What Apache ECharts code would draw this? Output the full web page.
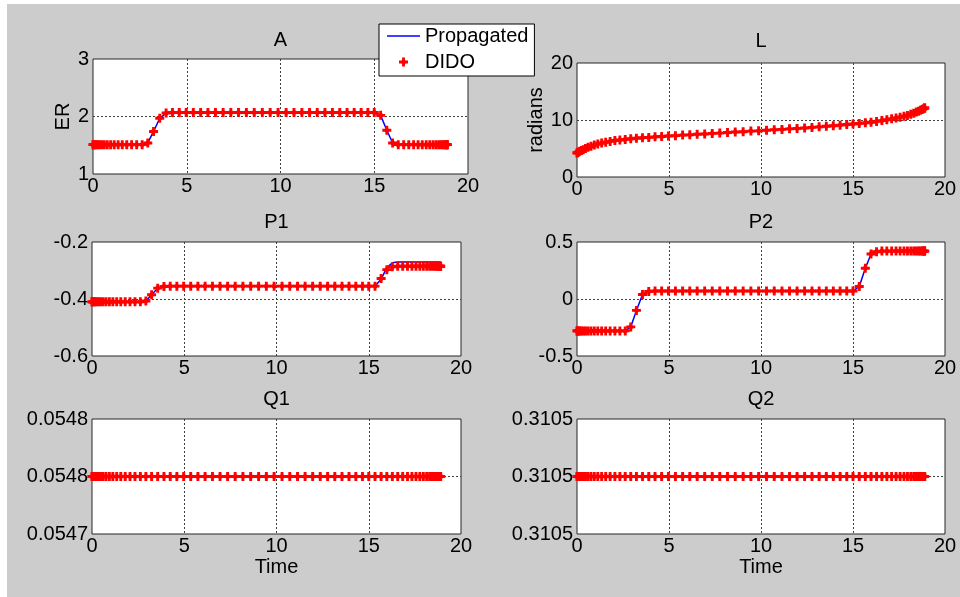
<!DOCTYPE html>
<html>
<head>
<meta charset="utf-8">
<script src="https://cdn.jsdelivr.net/npm/echarts@6/dist/echarts.min.js"></script>
<style>
html,body{margin:0;padding:0;background:#ffffff;}
#chart{width:960px;height:597px;}
</style>
</head>
<body>
<div id="chart"></div>
<script>
// ---- Data ----
const timeNodes = [
  0, 0.01, 0.04, 0.09, 0.15, 0.24, 0.34, 0.46, 0.60, 0.76,
  0.94, 1.13, 1.34, 1.56, 1.80, 2.06, 2.33, 2.62, 2.92, 3.23,
  3.56, 3.90, 4.24, 4.60, 4.97, 5.35, 5.74, 6.13, 6.53, 6.94,
  7.35, 7.76, 8.18, 8.60, 9.03, 9.45, 9.87, 10.30, 10.72, 11.14,
  11.55, 11.96, 12.37, 12.77, 13.16, 13.55, 13.93, 14.30, 14.66, 15.00,
  15.34, 15.67, 15.98, 16.28, 16.57, 16.84, 17.10, 17.34, 17.56, 17.77,
  17.96, 18.14, 18.30, 18.44, 18.56, 18.66, 18.75, 18.81, 18.86, 18.89,
  18.90
];

const aDido = [
  1.51, 1.51, 1.51, 1.51, 1.51, 1.51, 1.51, 1.51, 1.51, 1.51,
  1.51, 1.51, 1.51, 1.51, 1.51, 1.51, 1.51, 1.51, 1.54, 1.74,
  1.97, 2.06, 2.07, 2.07, 2.07, 2.07, 2.07, 2.07, 2.07, 2.07,
  2.07, 2.07, 2.07, 2.07, 2.07, 2.07, 2.07, 2.07, 2.07, 2.07,
  2.07, 2.07, 2.07, 2.07, 2.07, 2.07, 2.07, 2.07, 2.07, 2.07,
  2.02, 1.76, 1.54, 1.51, 1.51, 1.51, 1.51, 1.51, 1.51, 1.51,
  1.51, 1.51, 1.51, 1.51, 1.51, 1.51, 1.51, 1.51, 1.51, 1.51,
  1.51
];

const lDido = [
  4.2, 4.25, 4.3, 4.4, 4.5, 4.65, 4.8, 5.0, 5.2, 5.4,
  5.6, 5.8, 5.95, 6.1, 6.25, 6.4, 6.5, 6.6, 6.7, 6.8,
  6.9, 6.95, 7.05, 7.1, 7.2, 7.25, 7.35, 7.4, 7.5, 7.55,
  7.65, 7.7, 7.8, 7.9, 7.95, 8.05, 8.1, 8.2, 8.3, 8.35,
  8.45, 8.5, 8.6, 8.7, 8.8, 8.9, 9.0, 9.1, 9.2, 9.3,
  9.4, 9.5, 9.6, 9.75, 9.9, 10.05, 10.2, 10.35, 10.5, 10.65,
  10.8, 11.0, 11.2, 11.4, 11.55, 11.7, 11.85, 11.95, 12.05, 12.1,
  12.1
];

const p1Dido = [
  -0.41, -0.41, -0.41, -0.41, -0.41, -0.41, -0.41, -0.41, -0.41, -0.41,
  -0.41, -0.41, -0.41, -0.41, -0.41, -0.41, -0.41, -0.41, -0.407, -0.385,
  -0.362, -0.356, -0.355, -0.355, -0.355, -0.355, -0.355, -0.355, -0.355, -0.355,
  -0.355, -0.355, -0.355, -0.355, -0.355, -0.355, -0.355, -0.355, -0.355, -0.355,
  -0.355, -0.355, -0.355, -0.355, -0.355, -0.355, -0.355, -0.355, -0.355, -0.355,
  -0.355, -0.328, -0.297, -0.287, -0.285, -0.285, -0.285, -0.285, -0.285, -0.285,
  -0.285, -0.285, -0.285, -0.285, -0.285, -0.285, -0.285, -0.285, -0.285, -0.285,
  -0.285
];

const p1Prop = [
  -0.41, -0.41, -0.41, -0.41, -0.41, -0.41, -0.41, -0.41, -0.41, -0.41,
  -0.41, -0.41, -0.41, -0.41, -0.41, -0.41, -0.41, -0.41, -0.407, -0.385,
  -0.362, -0.356, -0.355, -0.355, -0.355, -0.355, -0.355, -0.355, -0.355, -0.355,
  -0.355, -0.355, -0.355, -0.355, -0.355, -0.355, -0.355, -0.355, -0.355, -0.355,
  -0.355, -0.355, -0.355, -0.355, -0.355, -0.355, -0.355, -0.355, -0.355, -0.355,
  -0.355, -0.33, -0.29, -0.273, -0.27, -0.27, -0.27, -0.27, -0.27, -0.27,
  -0.27, -0.27, -0.27, -0.27, -0.27, -0.27, -0.27, -0.27, -0.27, -0.27,
  -0.27
];

const p2Dido = [
  -0.28, -0.28, -0.28, -0.28, -0.28, -0.28, -0.28, -0.28, -0.28, -0.28,
  -0.28, -0.28, -0.28, -0.28, -0.28, -0.28, -0.28, -0.28, -0.245, -0.10,
  0.04, 0.066, 0.07, 0.07, 0.07, 0.07, 0.07, 0.07, 0.07, 0.07,
  0.07, 0.07, 0.07, 0.07, 0.07, 0.07, 0.07, 0.07, 0.07, 0.07,
  0.07, 0.07, 0.07, 0.07, 0.07, 0.07, 0.07, 0.07, 0.07, 0.07,
  0.11, 0.27, 0.395, 0.415, 0.42, 0.42, 0.42, 0.42, 0.42, 0.42,
  0.42, 0.42, 0.42, 0.42, 0.42, 0.42, 0.42, 0.42, 0.42, 0.42,
  0.42
];

const q1Dido = [
  0.05476, 0.05476, 0.05476, 0.05476, 0.05476, 0.05476, 0.05476, 0.05476, 0.05476, 0.05476,
  0.05476, 0.05476, 0.05476, 0.05476, 0.05476, 0.05476, 0.05476, 0.05476, 0.05476, 0.05476,
  0.05476, 0.05476, 0.05476, 0.05476, 0.05476, 0.05476, 0.05476, 0.05476, 0.05476, 0.05476,
  0.05476, 0.05476, 0.05476, 0.05476, 0.05476, 0.05476, 0.05476, 0.05476, 0.05476, 0.05476,
  0.05476, 0.05476, 0.05476, 0.05476, 0.05476, 0.05476, 0.05476, 0.05476, 0.05476, 0.05476,
  0.05476, 0.05476, 0.05476, 0.05476, 0.05476, 0.05476, 0.05476, 0.05476, 0.05476, 0.05476,
  0.05476, 0.05476, 0.05476, 0.05476, 0.05476, 0.05476, 0.05476, 0.05476, 0.05476, 0.05476,
  0.05476
];

const q2Dido = [
  0.31048, 0.31048, 0.31048, 0.31048, 0.31048, 0.31048, 0.31048, 0.31048, 0.31048, 0.31048,
  0.31048, 0.31048, 0.31048, 0.31048, 0.31048, 0.31048, 0.31048, 0.31048, 0.31048, 0.31048,
  0.31048, 0.31048, 0.31048, 0.31048, 0.31048, 0.31048, 0.31048, 0.31048, 0.31048, 0.31048,
  0.31048, 0.31048, 0.31048, 0.31048, 0.31048, 0.31048, 0.31048, 0.31048, 0.31048, 0.31048,
  0.31048, 0.31048, 0.31048, 0.31048, 0.31048, 0.31048, 0.31048, 0.31048, 0.31048, 0.31048,
  0.31048, 0.31048, 0.31048, 0.31048, 0.31048, 0.31048, 0.31048, 0.31048, 0.31048, 0.31048,
  0.31048, 0.31048, 0.31048, 0.31048, 0.31048, 0.31048, 0.31048, 0.31048, 0.31048, 0.31048,
  0.31048
];

const panelTitles = ['A', 'L', 'P1', 'P2', 'Q1', 'Q2'];
const yNames = ['ER', 'radians', '', '', '', ''];
const xName = 'Time';
const seriesNames = ['Propagated', 'DIDO'];
const xRange = { min: 0, max: 20, interval: 5 };
const yRanges = [
  { min: 1, max: 3, interval: 1 },
  { min: 0, max: 20, interval: 10 },
  { min: -0.6, max: -0.2, interval: 0.2 },
  { min: -0.5, max: 0.5, interval: 0.5 },
  { min: 0.05472, max: 0.0548, interval: 0.00004 },
  { min: 0.31046, max: 0.3105, interval: 0.00002 }
];
const didoSets = [aDido, lDido, p1Dido, p2Dido, q1Dido, q2Dido];
const propSets = [aDido, lDido, p1Prop, p2Dido, q1Dido, q2Dido];

// ---- Layout / style ----
const FONT = "'Liberation Sans', Arial, sans-serif";
const grids = [
  { left: 93, top: 59, width: 375, height: 115 },
  { left: 577, top: 63, width: 368, height: 114 },
  { left: 92, top: 242, width: 369, height: 114 },
  { left: 577, top: 242, width: 368, height: 114 },
  { left: 92, top: 419, width: 369, height: 115 },
  { left: 577, top: 419, width: 368, height: 115 }
];
const titleY = [40, 41, 222, 222, 399, 399];
const yNameGap = [20, 28, 0, 0, 0, 0];
const starPath = 'path://M3.4,0L6.6,0L6.6,3.4L10,3.4L10,6.6L6.6,6.6L6.6,10L3.4,10L3.4,6.6L0,6.6L0,3.4L3.4,3.4ZM5,1L9,5L5,9L1,5Z';
const lineIcon = 'path://M0,0L33,0L33,1.6L0,1.6Z';

const gridLine = { show: true, showMinLine: false, showMaxLine: false,
  lineStyle: { color: '#404040', width: 1, type: [2, 2] } };

const option = {
  animation: false,
  backgroundColor: '#ffffff',
  graphic: [{
    type: 'rect', z: -100, silent: true,
    shape: { x: 7, y: 4, width: 953, height: 593 },
    style: { fill: '#cccccc' }
  }],
  title: panelTitles.map((t, i) => ({
    text: t,
    left: grids[i].left + grids[i].width / 2,
    top: titleY[i],
    padding: 0,
    textAlign: 'center',
    textVerticalAlign: 'middle',
    textStyle: { fontSize: 20, fontWeight: 'normal', color: '#000', fontFamily: FONT }
  })),
  legend: {
    data: [{ name: seriesNames[0], icon: lineIcon }, { name: seriesNames[1], icon: starPath }],
    orient: 'vertical',
    left: 379, top: 24,
    padding: [2, 6, 4, 8],
    itemGap: 6,
    itemWidth: 33,
    itemHeight: 9,
    backgroundColor: '#ffffff',
    borderColor: '#000000',
    borderWidth: 1,
    borderRadius: 0,
    selectedMode: false,
    textStyle: { fontSize: 20, color: '#000', fontFamily: FONT }
  },
  grid: grids.map(g => Object.assign({
    show: true, backgroundColor: '#ffffff', borderColor: '#262626', borderWidth: 1,
    containLabel: false, outerBoundsMode: 'none'
  }, g)),
  xAxis: grids.map((g, i) => ({
    type: 'value', gridIndex: i,
    min: xRange.min, max: xRange.max, interval: xRange.interval,
    name: i >= 4 ? xName : '',
    nameLocation: 'middle', nameGap: 23,
    nameTextStyle: { fontSize: 20, color: '#000', fontFamily: FONT },
    axisLine: { show: false },
    axisTick: { show: false },
    axisLabel: { fontSize: 20, color: '#000', fontFamily: FONT, margin: 2,
      showMinLabel: true, showMaxLabel: true },
    splitLine: gridLine
  })),
  yAxis: grids.map((g, i) => ({
    type: 'value', gridIndex: i,
    min: yRanges[i].min, max: yRanges[i].max, interval: yRanges[i].interval,
    name: yNames[i],
    nameLocation: 'middle', nameGap: yNameGap[i], nameRotate: 90,
    nameTextStyle: { fontSize: 20, color: '#000', fontFamily: FONT },
    axisLine: { show: false },
    axisTick: { show: false },
    axisLabel: {
      fontSize: 20, color: '#000', fontFamily: FONT, margin: 4,
      showMinLabel: true, showMaxLabel: true,
      formatter: i >= 4 ? (v => v.toFixed(4)) : null
    },
    splitLine: gridLine
  })),
  series: []
};

for (let i = 0; i < 6; i++) {
  option.series.push({
    name: seriesNames[0], type: 'line', xAxisIndex: i, yAxisIndex: i,
    data: timeNodes.map((t, k) => [t, propSets[i][k]]),
    symbol: 'none', z: 2,
    lineStyle: { color: '#0000ff', width: 1.5 },
    itemStyle: { color: '#0000ff' }
  });
  option.series.push({
    name: seriesNames[1], type: 'scatter', xAxisIndex: i, yAxisIndex: i,
    data: timeNodes.map((t, k) => [t, didoSets[i][k]]),
    symbol: starPath, symbolSize: 9, z: 3,
    itemStyle: { color: '#ff0000', opacity: 1 }
  });
}

const chart = echarts.init(document.getElementById('chart'), null, { renderer: 'canvas' });
chart.setOption(option);
</script>
</body>
</html>
